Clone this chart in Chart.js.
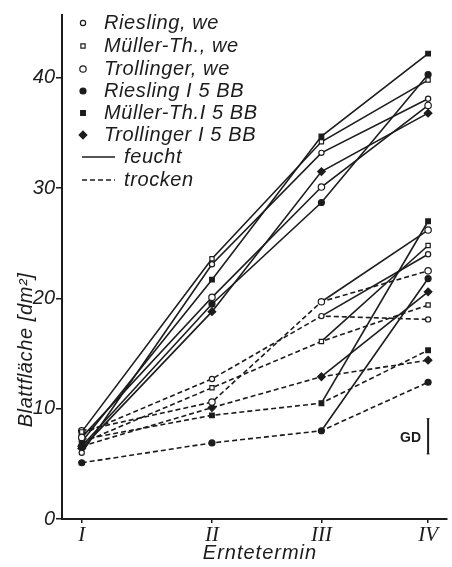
<!DOCTYPE html>
<html>
<head>
<meta charset="utf-8">
<script src="https://cdn.jsdelivr.net/npm/chart.js@4.4.1/dist/chart.umd.min.js"></script>
<style>
  html, body { margin: 0; padding: 0; background: #fff; }
  #wrap { position: relative; width: 452px; height: 567px; }
</style>
</head>
<body>
<div id="wrap"><canvas id="c" width="452" height="567"></canvas></div>
<script>
// Blattfläche je Erntetermin — feucht (solid), trocken (dashed),
// plus the dry plants re-watered after III (solid III -> IV).

const termLabels = ['I', 'II', 'III', 'IV'];
const termPos = [0, 37.6, 69.2, 100];   // harvest spacing on the x axis
const yTicks = [0, 10, 20, 30, 40];

// feucht
const rieslingWeFeucht     = [6.0, 23.1, 33.2, 38.1];
const muellerWeFeucht      = [7.9, 23.6, 34.2, 39.8];
const trollingerWeFeucht   = [7.4, 20.1, 30.1, 37.5];
const riesling5bbFeucht    = [6.6, 19.5, 28.7, 40.3];
const mueller5bbFeucht     = [7.0, 21.7, 34.7, 42.2];
const trollinger5bbFeucht  = [6.4, 18.8, 31.5, 36.8];

// trocken
const rieslingWeTrocken    = [7.7, 12.7, 18.4, 18.1];
const muellerWeTrocken     = [6.9, 11.9, 16.1, 19.4];
const trollingerWeTrocken  = [8.0, 10.6, 19.7, 22.5];
const riesling5bbTrocken   = [5.1, 6.9, 8.0, 12.4];
const mueller5bbTrocken    = [7.2, 9.4, 10.5, 15.3];
const trollinger5bbTrocken = [6.6, 10.1, 12.9, 14.4];

// trocken until III, then wet
const rieslingWeRewet      = [null, null, 18.4, 24.0];
const muellerWeRewet       = [null, null, 16.1, 24.8];
const trollingerWeRewet    = [null, null, 19.7, 26.2];
const riesling5bbRewet     = [null, null, 8.0, 21.8];
const mueller5bbRewet      = [null, null, 10.5, 27.0];
const trollinger5bbRewet   = [null, null, 12.9, 20.6];

const gdRange = [5.9, 9.1];   // GD bar at IV

const legendLabels = [
  'Riesling, we', 'Müller-Th., we', 'Trollinger, we',
  'Riesling I 5 BB', 'Müller-Th.I 5 BB', 'Trollinger I 5 BB'
];

const INK = '#1c1c1c';
const SANS = '"Liberation Sans", Arial, sans-serif';
const SERIF = '"Liberation Serif", serif';

// marker per variety (same order as legendLabels)
const MARKERS = [
  { style: 'circle',  r: 2.6, fill: '#fff' },
  { style: 'rect',    r: 3.0, fill: '#fff' },
  { style: 'circle',  r: 3.2, fill: '#fff' },
  { style: 'circle',  r: 3.0, fill: INK },
  { style: 'rect',    r: 3.3, fill: INK },
  { style: 'rectRot', r: 3.8, fill: INK },
];

const toPoints = vals => vals
  .map((v, i) => ({ x: termPos[i], y: v }))
  .filter(p => p.y !== null);

function series(vals, m, dashed, hideFirst) {
  const pts = toPoints(vals);
  return {
    data: pts,
    borderColor: INK,
    borderWidth: 1.6,
    borderDash: dashed ? [5, 3] : [],
    fill: false,
    tension: 0,
    pointStyle: m.style,
    pointRadius: hideFirst ? pts.map((p, i) => (i === 0 ? 0 : m.r)) : m.r,
    pointBackgroundColor: m.fill,
    pointBorderColor: INK,
    pointBorderWidth: 1.2,
  };
}

const feucht  = [rieslingWeFeucht, muellerWeFeucht, trollingerWeFeucht, riesling5bbFeucht, mueller5bbFeucht, trollinger5bbFeucht];
const trocken = [rieslingWeTrocken, muellerWeTrocken, trollingerWeTrocken, riesling5bbTrocken, mueller5bbTrocken, trollinger5bbTrocken];
const rewet   = [rieslingWeRewet, muellerWeRewet, trollingerWeRewet, riesling5bbRewet, mueller5bbRewet, trollinger5bbRewet];

const datasets = [
  ...feucht.map((v, i) => series(v, MARKERS[i], false, false)),
  ...trocken.map((v, i) => series(v, MARKERS[i], true, false)),
  ...rewet.map((v, i) => series(v, MARKERS[i], false, true)),
];

function marker(ctx, m, x, y) {
  ctx.save();
  ctx.fillStyle = m.fill;
  ctx.strokeStyle = INK;
  ctx.lineWidth = 1.2;
  Chart.helpers.drawPoint(ctx, { pointStyle: m.style, radius: m.r, rotation: 0, borderWidth: 1.2 }, x, y);
  ctx.restore();
}

const decor = {
  id: 'decor',
  afterDraw(chart) {
    const ctx = chart.ctx;
    const xs = chart.scales.x, ys = chart.scales.y;
    ctx.save();
    ctx.fillStyle = INK;
    ctx.strokeStyle = INK;
    ctx.letterSpacing = '0.6px';
    ctx.font = 'italic 20px ' + SANS;
    ctx.textBaseline = 'middle';

    // legend
    const rows = [23, 46, 69, 91, 113, 135, 157, 180];
    legendLabels.forEach((t, i) => {
      marker(ctx, MARKERS[i], 83, rows[i]);
      ctx.fillStyle = INK;
      ctx.fillText(t, 104, rows[i]);
    });
    ctx.lineWidth = 1.6;
    ctx.beginPath(); ctx.moveTo(82, rows[6]); ctx.lineTo(115, rows[6]); ctx.stroke();
    ctx.setLineDash([5, 3]);
    ctx.beginPath(); ctx.moveTo(82, rows[7]); ctx.lineTo(115, rows[7]); ctx.stroke();
    ctx.setLineDash([]);
    ctx.fillText('feucht', 124, rows[6]);
    ctx.fillText('trocken', 124, rows[7]);

    // y title
    ctx.save();
    ctx.translate(26, 350);
    ctx.rotate(-Math.PI / 2);
    ctx.textAlign = 'center';
    ctx.fillText('Blattfläche [dm²]', 0, 0);
    ctx.restore();

    // x title
    ctx.textAlign = 'center';
    ctx.letterSpacing = '1px';
    ctx.fillText('Erntetermin', 260, 553);

    // GD bar
    const gx = xs.getPixelForValue(termPos[3]);
    const y1 = ys.getPixelForValue(gdRange[0]), y2 = ys.getPixelForValue(gdRange[1]);
    ctx.lineWidth = 2;
    ctx.beginPath(); ctx.moveTo(gx, y1); ctx.lineTo(gx, y2); ctx.stroke();
    ctx.lineWidth = 1;
    ctx.beginPath();
    ctx.moveTo(gx - 1.5, y1); ctx.lineTo(gx + 1.5, y1);
    ctx.moveTo(gx - 1.5, y2); ctx.lineTo(gx + 1.5, y2);
    ctx.stroke();
    ctx.letterSpacing = '0px';
    ctx.font = 'bold 14px ' + SANS;
    ctx.textAlign = 'right';
    ctx.fillText('GD', gx - 7, (y1 + y2) / 2 + 2);
    ctx.restore();
  }
};

new Chart(document.getElementById('c'), {
  type: 'line',
  data: { datasets },
  plugins: [decor],
  options: {
    responsive: false,
    animation: false,
    layout: { padding: { top: 15, right: 0, left: 0, bottom: 0 } },
    plugins: { legend: { display: false }, tooltip: { enabled: false } },
    scales: {
      x: {
        type: 'linear',
        min: -5.7, max: 105.4,
        afterFit: s => { s.height = 48; },
        afterBuildTicks: s => { s.ticks = termPos.map(v => ({ value: v })); },
        ticks: {
          callback: (v, i) => termLabels[i],
          font: { family: SERIF, size: 21, style: 'italic' },
          color: INK, padding: 0, maxRotation: 0, autoSkip: false,
        },
        grid: { display: true, drawOnChartArea: false, drawTicks: true, tickLength: 4, color: INK, lineWidth: 1.5 },
        border: { display: true, color: INK, width: 2 },
      },
      y: {
        min: 0, max: 45.7,
        afterFit: s => { s.width = 62; },
        afterBuildTicks: s => { s.ticks = yTicks.map(v => ({ value: v })); },
        ticks: {
          font: { family: SANS, size: 20, style: 'italic' },
          color: INK, padding: 1,
        },
        grid: { display: true, drawOnChartArea: false, drawTicks: true, tickLength: 6, color: INK, lineWidth: 1.5 },
        border: { display: true, color: INK, width: 2 },
      }
    }
  }
});
</script>
</body>
</html>
